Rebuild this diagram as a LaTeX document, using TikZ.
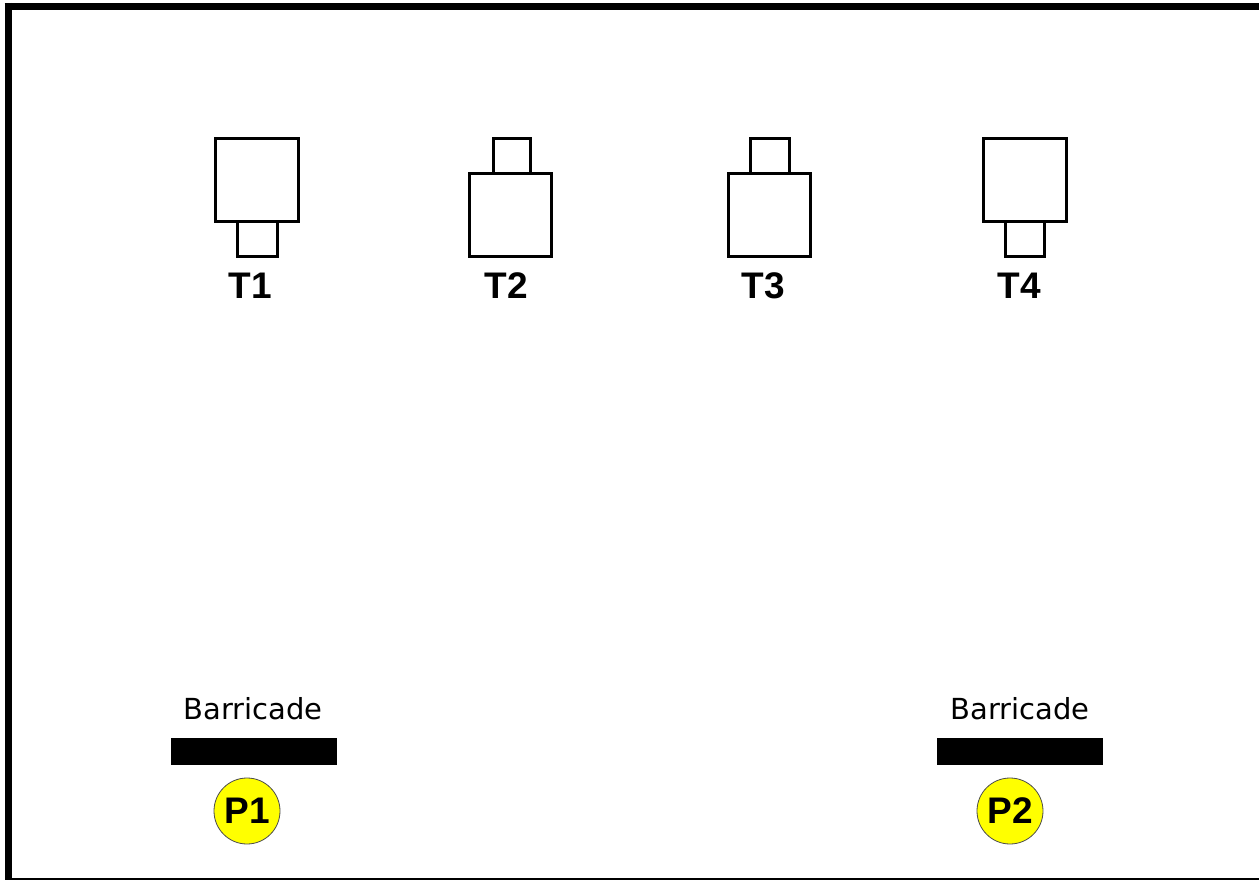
\documentclass[tikz,border=0pt]{standalone}
\usepackage{fontspec}
\setmainfont{Liberation Sans}
\newfontfamily\barfont{DejaVu Sans}
\definecolor{pyellow}{RGB}{255,255,0}
\begin{document}
\begin{tikzpicture}[x=1pt,y=-1pt,
  tbox/.style={draw=black,line width=3.4pt},
  tlabel/.style={font=\fontsize{37}{37}\selectfont\bfseries,inner sep=0pt,anchor=base},
  barlabel/.style={font=\barfont\fontsize{29}{29}\selectfont,inner sep=0pt,anchor=base},
  barrier/.style={fill=black,draw=none},
  post/.style={circle,fill=pyellow,draw=black!70,line width=0.8pt,minimum size=66pt,inner sep=0pt,
    font=\fontsize{37}{37}\selectfont\bfseries}]
\useasboundingbox (0,0) rectangle (1259,880);
\fill[white] (0,0) rectangle (1259,880);
% frame
\draw[line width=7pt] (8,3) -- (8,880);
\draw[line width=7pt] (4.5,7) -- (1259,7);
\draw[line width=1.8pt] (11,879) -- (1259,879);
% T1
\draw[tbox] (215.5,138.5) rectangle (298.5,221.5);
\draw[tbox] (237.5,221.5) rectangle (277.5,256.5);
\node[tlabel] (t1) at (250,298) {T1};
% T2
\draw[tbox] (493.5,138.5) rectangle (530.5,173.5);
\draw[tbox] (469.5,173.5) rectangle (551.5,256.5);
\node[tlabel] (t2) at (506,298) {T2};
% T3
\draw[tbox] (750.5,138.5) rectangle (789.5,173.5);
\draw[tbox] (728.5,173.5) rectangle (810.5,256.5);
\node[tlabel] (t3) at (763,298) {T3};
% T4
\draw[tbox] (983.5,138.5) rectangle (1066.5,221.5);
\draw[tbox] (1005.5,221.5) rectangle (1044.5,256.5);
\node[tlabel] (t4) at (1019,298) {T4};
% barricades
\node[barlabel] (b1) at (253,719) {Barricade};
\fill[barrier] (171,738) rectangle (337,765);
\node[post] (p1) at (247,811) {P1};
\node[barlabel] (b2) at (1020,719) {Barricade};
\fill[barrier] (937,738) rectangle (1103,765);
\node[post] (p2) at (1010,811) {P2};
\end{tikzpicture}
\end{document}
